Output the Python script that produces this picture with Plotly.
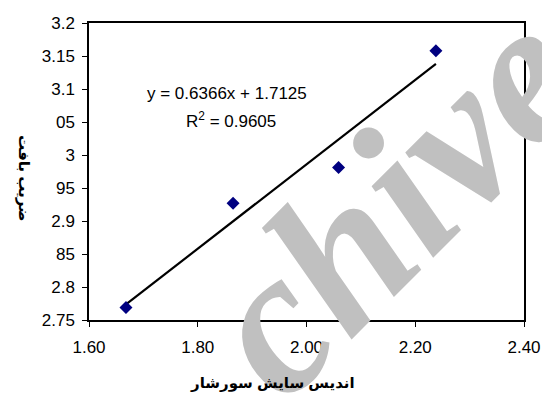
import numpy as np
import plotly.graph_objects as go

# Data
abrasion_index = [1.668, 1.865, 2.059, 2.238]
texture_coef = [2.769, 2.927, 2.981, 3.158]

x_tick_vals = [1.6, 1.8, 2.0, 2.2, 2.4]
x_tick_text = ["1.60", "1.80", "2.00", "2.20", "2.40"]
y_tick_vals = [2.75, 2.8, 2.85, 2.9, 2.95, 3.0, 3.05, 3.1, 3.15, 3.2]
y_tick_text = ["2.75", "2.8", "85", "2.9", "95", "3", "05", "3.1", "3.15", "3.2"]

eq_text = "y = 0.6366x + 1.7125"
r2_text = "R<sup>2</sup> = 0.9605"
x_title = "اندیس سایش سورشار"
y_title = "ضریب بافت"
watermark = "chive"

slope, intercept = np.polyfit(abrasion_index, texture_coef, 1)
fit_x = [min(abrasion_index), max(abrasion_index)]
fit_y = [slope * v + intercept for v in fit_x]

FONT = "Liberation Sans, Arial, DejaVu Sans"

# plot area in pixels
L, R, T, B = 89, 524, 23, 320
W, H = R - L, B - T


def px(xp):
    return (xp - L) / W


def py(yp):
    return (B - yp) / H


fig = go.Figure()
fig.add_trace(go.Scatter(x=fit_x, y=fit_y, mode="lines",
                         line=dict(color="black", width=2.2), hoverinfo="skip"))
fig.add_trace(go.Scatter(x=abrasion_index, y=texture_coef, mode="markers",
                         marker=dict(symbol="diamond", size=10, color="#000080")))

axis_common = dict(showline=True, linecolor="black", linewidth=1.5, mirror=True,
                   ticks="outside", ticklen=5, tickcolor="black", tickwidth=1,
                   showgrid=False, zeroline=False, automargin=False,
                   tickfont=dict(family=FONT, size=17, color="black"))

fig.update_layout(
    width=542, height=394,
    margin=dict(l=L, r=542 - R, t=T, b=394 - B, autoexpand=False),
    paper_bgcolor="white", plot_bgcolor="white",
    showlegend=False,
    xaxis=dict(range=[1.6, 2.4], tickvals=x_tick_vals, ticktext=x_tick_text,
               ticklabelstandoff=6, **axis_common),
    yaxis=dict(range=[2.75, 3.2], tickvals=y_tick_vals, ticktext=y_tick_text,
               ticklabelstandoff=4, **axis_common),
    annotations=[
        dict(text=watermark, xref="paper", yref="paper", x=px(392), y=py(200),
             xanchor="center", yanchor="middle",
             showarrow=False, textangle=-45,
             font=dict(family="Liberation Serif, DejaVu Serif", size=205, color="#c0c0c0",
                       style="italic", weight="bold")),
        dict(text=eq_text, xref="paper", yref="paper", x=px(227), y=py(93),
             xanchor="center", yanchor="middle",
             showarrow=False, font=dict(family=FONT, size=17, color="black")),
        dict(text=r2_text, xref="paper", yref="paper", x=px(231), y=py(120),
             xanchor="center", yanchor="middle",
             showarrow=False, font=dict(family=FONT, size=17, color="black")),
        dict(text="<b>" + x_title + "</b>", xref="paper", yref="paper",
             x=px(272), y=py(383), xanchor="center", yanchor="middle",
             showarrow=False, font=dict(family=FONT, size=15, color="black")),
        dict(text="<b>" + y_title + "</b>", xref="paper", yref="paper",
             x=px(24), y=py(178), xanchor="center", yanchor="middle", textangle=90,
             showarrow=False, font=dict(family=FONT, size=15, color="black")),
    ],
)

fig.write_html("out.html", config={"displayModeBar": False},
               post_script="document.body.style.margin='0';document.body.style.padding='0';")
